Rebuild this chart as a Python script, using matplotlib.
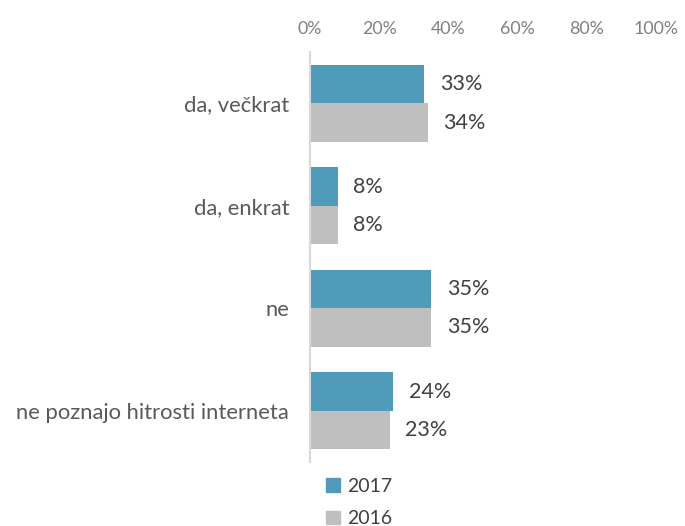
import numpy as np
import matplotlib
matplotlib.use('Agg')
import matplotlib.pyplot as plt
from matplotlib.patches import Patch

# Data
categories = ['da, večkrat', 'da, enkrat', 'ne', 'ne poznajo hitrosti interneta']
values_2017 = [0.33, 0.08, 0.35, 0.24]
values_2016 = [0.34, 0.08, 0.35, 0.23]
series_labels = ['2017', '2016']
ticks = [0, 0.2, 0.4, 0.6, 0.8, 1.0]

plt.rcParams['font.family'] = ['Lato', 'DejaVu Sans']

fig = plt.figure(figsize=(6.85, 5.26), dpi=100)
ax = fig.add_axes([0.4526, 0.1217, 0.505, 0.7793])

y = np.arange(len(categories))
h = 0.375
ax.barh(y - h / 2, values_2017, height=h, color='#4F9BB9')
ax.barh(y + h / 2, values_2016, height=h, color='#BFBFBF')

for i in range(len(categories)):
    ax.text(values_2017[i] + 0.045, y[i] - h / 2, f'{values_2017[i]:.0%}',
            va='center', ha='left', fontsize=15.5, color='#404040')
    ax.text(values_2016[i] + 0.045, y[i] + h / 2, f'{values_2016[i]:.0%}',
            va='center', ha='left', fontsize=15.5, color='#404040')

ax.set_xlim(0, 1)
ax.set_ylim(len(categories) - 0.5, -0.5)
ax.xaxis.tick_top()
ax.set_xticks(ticks)
ax.set_xticklabels([f'{t:.0%}' for t in ticks], fontsize=12.8, color='#808080')
ax.set_yticks(y)
ax.set_yticklabels(categories, fontsize=15.8, color='#595959')
ax.tick_params(axis='both', length=0)
ax.tick_params(axis='x', pad=11)
ax.tick_params(axis='y', pad=15)
for s in ['top', 'right', 'bottom']:
    ax.spines[s].set_visible(False)
ax.spines['left'].set_color('#D9D9D9')
ax.spines['left'].set_linewidth(1.5)

handles = [Patch(color='#4F9BB9'), Patch(color='#BFBFBF')]
fig.legend(handles, series_labels, loc='upper left', bbox_to_anchor=(0.451, 0.125),
           frameon=False, fontsize=14, handlelength=0.7, handleheight=0.7,
           handletextpad=0.35, labelspacing=0.8, labelcolor='#404040')

plt.savefig('out.png')
